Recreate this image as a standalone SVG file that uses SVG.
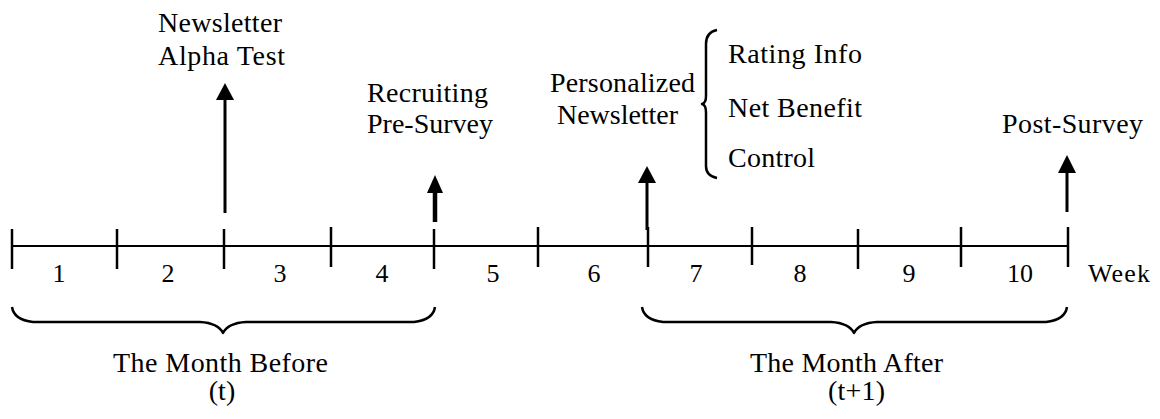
<svg xmlns="http://www.w3.org/2000/svg" width="1160" height="419" viewBox="0 0 1160 419">
<style>
text{font-family:"Liberation Serif","Times New Roman",serif;font-size:28px;fill:#000}
.c{text-anchor:middle}
.d{font-size:26px}
.ln{stroke:#000;stroke-width:2;fill:none}
.tk{stroke:#000;stroke-width:2.5}
.br{stroke:#000;stroke-width:2.5;fill:none;stroke-linejoin:round}
.sh{stroke:#000;stroke-width:3}
</style>
<rect width="1160" height="419" fill="#fff"/>
<g id="axis">
<line class="ln" x1="12" y1="246" x2="1068" y2="246"/>
<line class="tk" x1="12" y1="229" x2="12" y2="269"/>
<line class="tk" x1="117" y1="229" x2="117" y2="269"/>
<line class="tk" x1="224" y1="229" x2="224" y2="269"/>
<line class="tk" x1="331" y1="227" x2="331" y2="267"/>
<line class="tk" x1="434" y1="229" x2="434" y2="269"/>
<line class="tk" x1="538" y1="227" x2="538" y2="267"/>
<line class="tk" x1="648" y1="227" x2="648" y2="267"/>
<line class="tk" x1="752" y1="227" x2="752" y2="265"/>
<line class="tk" x1="858" y1="229" x2="858" y2="269"/>
<line class="tk" x1="961" y1="227" x2="961" y2="267"/>
<line class="tk" x1="1068" y1="227" x2="1068" y2="267"/>
<text class="c d" x="59" y="282">1</text>
<text class="c d" x="168" y="282">2</text>
<text class="c d" x="280" y="282">3</text>
<text class="c d" x="382" y="282">4</text>
<text class="c d" x="493" y="282">5</text>
<text class="c d" x="594" y="282">6</text>
<text class="c d" x="696" y="282">7</text>
<text class="c d" x="800" y="282">8</text>
<text class="c d" x="909" y="282">9</text>
<text class="c d" x="1020" y="282">10</text>
<text class="d" x="1088" y="282" textLength="62" lengthAdjust="spacing">Week</text>
</g>
<g id="alpha-test">
<text x="158" y="32" textLength="124" lengthAdjust="spacing">Newsletter</text>
<text x="158" y="65" textLength="127" lengthAdjust="spacing">Alpha Test</text>
</g>
<g id="recruiting">
<text x="367" y="102" textLength="121" lengthAdjust="spacing">Recruiting</text>
<text x="367" y="133" textLength="126" lengthAdjust="spacing">Pre-Survey</text>
</g>
<g id="personalized">
<text x="550" y="92" textLength="145" lengthAdjust="spacing">Personalized</text>
<text x="557" y="124" textLength="121" lengthAdjust="spacing">Newsletter</text>
<path class="br" d="M717,30 Q706,32 706,44 L706,96 Q706,103 702,104 Q706,105 706,112 L706,166 Q706,176 717,178"/>
<text x="728" y="63" textLength="134" lengthAdjust="spacing">Rating Info</text>
<text x="728" y="117" textLength="134" lengthAdjust="spacing">Net Benefit</text>
<text x="728" y="167" textLength="87" lengthAdjust="spacing">Control</text>
</g>
<g id="post-survey">
<text x="1002" y="133" textLength="141" lengthAdjust="spacing">Post-Survey</text>
</g>
<g id="month-before">
<path class="br" d="M12,307 Q14,320 33,322 L200,322 Q218,323 223,333 Q228,323 246,322 L414,322 Q433,320 435,307"/>
<text x="113" y="372" textLength="215" lengthAdjust="spacing">The Month Before</text>
<text class="c" x="222" y="400">(t)</text>
</g>
<g id="month-after">
<path class="br" d="M642,307 Q644,320 663,322 L831,322 Q849,323 854,333 Q859,323 877,322 L1046,322 Q1065,320 1067,307"/>
<text x="750" y="372" textLength="193" lengthAdjust="spacing">The Month After</text>
<text x="828" y="400" textLength="57" lengthAdjust="spacing">(t+1)</text>
</g>
<g id="connectors">
<line class="sh" x1="225" y1="98" x2="225" y2="213"/>
<polygon points="225,83 216,100 234,100"/>
<line class="sh" x1="435" y1="191" x2="435" y2="222" style="stroke-width:4.5"/>
<polygon points="435,175 427,193 443,193"/>
<line class="sh" x1="647" y1="181" x2="647" y2="230"/>
<polygon points="647,166 638,183 656,183"/>
<line class="sh" x1="1067" y1="171" x2="1067" y2="212"/>
<polygon points="1067,155 1058,173 1076,173"/>
</g>
</svg>
